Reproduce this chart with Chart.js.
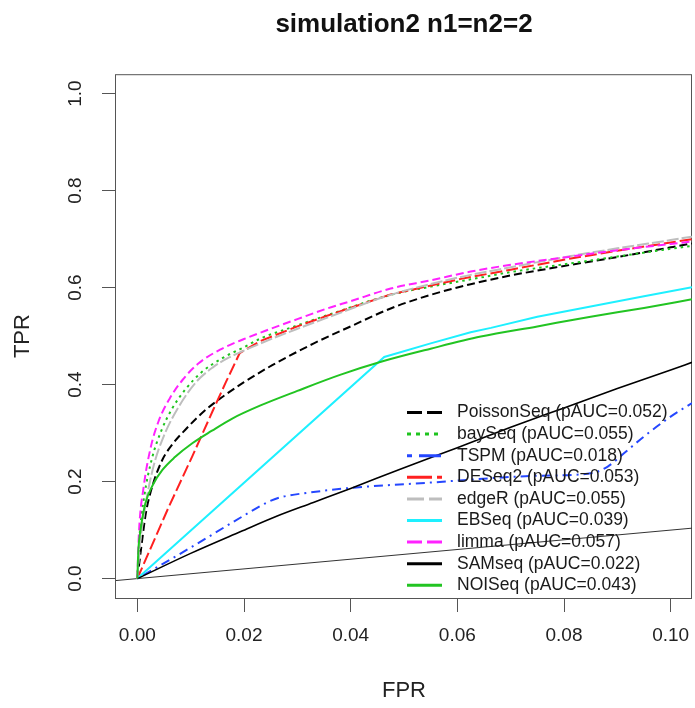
<!DOCTYPE html>
<html>
<head>
<meta charset="utf-8">
<script src="https://cdn.jsdelivr.net/npm/chart.js@4"></script>
<style>
  html, body { margin: 0; padding: 0; background: #fff; }
</style>
</head>
<body>
<canvas id="roc" width="695" height="708"></canvas>
<script>
// methods in legend order, with their partial AUC
var methods = ['PoissonSeq', 'baySeq', 'TSPM', 'DESeq2', 'edgeR', 'EBSeq', 'limma', 'SAMseq', 'NOISeq'];
var pAUC = [0.052, 0.055, 0.018, 0.053, 0.055, 0.039, 0.057, 0.022, 0.043];

// ROC curves (FPR, TPR)
var fprPoissonSeq = [0, 0.0008, 0.0016, 0.0028, 0.0047, 0.0068, 0.009, 0.0125, 0.016, 0.02, 0.0253, 0.0331, 0.04, 0.0475, 0.055, 0.0625, 0.07, 0.0813, 0.09, 0.1, 0.104];
var tprPoissonSeq = [0, 0.07, 0.135, 0.19, 0.245, 0.28, 0.307, 0.345, 0.375, 0.405, 0.44, 0.485, 0.52, 0.557, 0.585, 0.607, 0.625, 0.647, 0.663, 0.683, 0.691];

var fprBaySeq = [0, 0.0004, 0.0013, 0.0028, 0.0045, 0.0065, 0.009, 0.012, 0.016, 0.02, 0.0231, 0.03, 0.0356, 0.0475, 0.055, 0.0625, 0.07, 0.0813, 0.09, 0.1, 0.104];
var tprBaySeq = [0, 0.085, 0.17, 0.25, 0.305, 0.35, 0.39, 0.425, 0.455, 0.477, 0.495, 0.522, 0.543, 0.585, 0.602, 0.617, 0.632, 0.65, 0.664, 0.68, 0.686];

var fprTSPM = [0, 0.01, 0.02, 0.0245, 0.027, 0.032, 0.04, 0.0475, 0.055, 0.0663, 0.075, 0.085, 0.0882, 0.0913, 0.095, 0.1, 0.104];
var tprTSPM = [0, 0.064, 0.13, 0.158, 0.168, 0.177, 0.187, 0.193, 0.198, 0.207, 0.212, 0.217, 0.231, 0.259, 0.293, 0.334, 0.362];

var fprDESeq2 = [0, 0.0059, 0.0103, 0.0141, 0.0166, 0.0192, 0.0231, 0.03, 0.0356, 0.0475, 0.0607, 0.07, 0.0813, 0.09, 0.1, 0.104];
var tprDESeq2 = [0, 0.148, 0.252, 0.345, 0.405, 0.465, 0.49, 0.52, 0.542, 0.586, 0.618, 0.637, 0.66, 0.676, 0.693, 0.7];

var fprEdgeR = [0, 0.0005, 0.0015, 0.003, 0.005, 0.0078, 0.011, 0.0141, 0.0172, 0.02, 0.0231, 0.03, 0.0356, 0.0475, 0.0607, 0.07, 0.0813, 0.09, 0.1, 0.104];
var tprEdgeR = [0, 0.07, 0.15, 0.23, 0.295, 0.355, 0.405, 0.435, 0.456, 0.47, 0.485, 0.515, 0.538, 0.585, 0.622, 0.642, 0.665, 0.681, 0.698, 0.705];

var fprEBSeq = [0, 0.0463, 0.055, 0.0625, 0.0663, 0.075, 0.085, 0.095, 0.104];
var tprEBSeq = [0, 0.457, 0.485, 0.508, 0.517, 0.54, 0.561, 0.582, 0.601];

var fprLimma = [0, 0.0003, 0.0012, 0.0025, 0.004, 0.006, 0.0085, 0.0115, 0.0155, 0.02, 0.025, 0.03, 0.0356, 0.04, 0.0475, 0.055, 0.0625, 0.07, 0.0813, 0.09, 0.1, 0.104];
var tprLimma = [0, 0.094, 0.19, 0.27, 0.325, 0.37, 0.41, 0.444, 0.472, 0.494, 0.515, 0.535, 0.557, 0.572, 0.598, 0.615, 0.633, 0.647, 0.664, 0.677, 0.69, 0.695];

var fprSAMseq = [0, 0.01, 0.0194, 0.026, 0.033, 0.04, 0.0494, 0.06, 0.07, 0.08, 0.09, 0.1, 0.104];
var tprSAMseq = [0, 0.052, 0.097, 0.128, 0.157, 0.186, 0.226, 0.27, 0.312, 0.352, 0.392, 0.43, 0.446];

var fprNOISeq = [0, 0.0002, 0.0006, 0.0015, 0.003, 0.0047, 0.007, 0.0103, 0.014, 0.0178, 0.0231, 0.03, 0.038, 0.046, 0.055, 0.0644, 0.075, 0.085, 0.095, 0.104];
var tprNOISeq = [0, 0.06, 0.1, 0.155, 0.195, 0.224, 0.25, 0.279, 0.305, 0.33, 0.357, 0.387, 0.42, 0.448, 0.474, 0.499, 0.52, 0.54, 0.558, 0.576];

// the y = x reference line
var diagFpr = [-0.004, 0.104];
var diagTpr = [-0.004, 0.104];

var xTicks = [0, 0.02, 0.04, 0.06, 0.08, 0.1];
var yTicks = [0, 0.2, 0.4, 0.6, 0.8, 1.0];

var curves = {
  PoissonSeq: [fprPoissonSeq, tprPoissonSeq],
  baySeq: [fprBaySeq, tprBaySeq],
  TSPM: [fprTSPM, tprTSPM],
  DESeq2: [fprDESeq2, tprDESeq2],
  edgeR: [fprEdgeR, tprEdgeR],
  EBSeq: [fprEBSeq, tprEBSeq],
  limma: [fprLimma, tprLimma],
  SAMseq: [fprSAMseq, tprSAMseq],
  NOISeq: [fprNOISeq, tprNOISeq],
};

var styles = {
  PoissonSeq: { color: '#000000', dash: [8, 4], legendDash: [15, 5], smooth: true, width: 2 },
  baySeq: { color: '#1ec41e', dash: [2.5, 4], legendDash: [4, 5], smooth: true, width: 2 },
  TSPM: { color: '#2547ff', dash: [2, 5, 9, 5], legendDash: [5, 7, 22, 7], smooth: true, width: 2 },
  DESeq2: { color: '#ff2020', dash: [12, 4], legendDash: [25, 5], smooth: false, width: 2 },
  edgeR: { color: '#bebebe', dash: [12, 3], legendDash: [17, 5], smooth: true, width: 2 },
  EBSeq: { color: '#1ef0ff', dash: [], legendDash: [], smooth: false, width: 2 },
  limma: { color: '#ff22ff', dash: [8, 4], legendDash: [15, 5], smooth: true, width: 2 },
  SAMseq: { color: '#000000', dash: [], legendDash: [], smooth: true, width: 1.6 },
  NOISeq: { color: '#22c422', dash: [], legendDash: [], smooth: true, width: 2 },
};

var FONT = '"Liberation Sans", Arial, Helvetica, sans-serif';
Chart.defaults.font.family = FONT;

var toPoints = function (xs, ys) {
  return xs.map(function (x, j) { return { x: x, y: ys[j] }; });
};

var datasets = methods.map(function (m, i) {
  var s = styles[m];
  return {
    label: m + ' (pAUC=' + pAUC[i].toFixed(3) + ')',
    data: toPoints(curves[m][0], curves[m][1]),
    borderColor: s.color,
    borderWidth: s.width,
    borderDash: s.dash,
    legendDash: s.legendDash,
    cubicInterpolationMode: s.smooth ? 'monotone' : 'default',
    tension: 0,
    pointRadius: 0,
    fill: false,
    order: methods.length - i,
  };
});

datasets.push({
  label: 'y = x',
  data: toPoints(diagFpr, diagTpr),
  borderColor: '#333333',
  borderWidth: 1,
  pointRadius: 0,
  fill: false,
  inLegend: false,
  order: methods.length + 1,
});

// box round the plot region, R style
var plotBox = {
  id: 'plotBox',
  beforeDatasetsDraw: function (chart) {
    var a = chart.chartArea, ctx = chart.ctx;
    ctx.save();
    ctx.strokeStyle = '#555';
    ctx.lineWidth = 1;
    ctx.strokeRect(a.left - 0.5, a.top + 0.5, a.right - a.left, a.bottom - a.top);
    ctx.restore();
  }
};

// R legend without frame, bottom right inside the plot
var rLegend = {
  id: 'rLegend',
  afterDatasetsDraw: function (chart) {
    var a = chart.chartArea, ctx = chart.ctx;
    var x0 = a.left + 291, x1 = x0 + 35, tx = a.left + 341;
    var y = a.bottom - 185.5;
    ctx.save();
    ctx.font = '17.5px ' + FONT;
    ctx.textBaseline = 'middle';
    ctx.textAlign = 'left';
    chart.data.datasets.forEach(function (ds) {
      if (ds.inLegend === false) return;
      ctx.beginPath();
      ctx.setLineDash(ds.legendDash);
      ctx.strokeStyle = ds.borderColor;
      ctx.lineWidth = 3;
      ctx.moveTo(x0, y);
      ctx.lineTo(x1, y);
      ctx.stroke();
      ctx.setLineDash([]);
      ctx.fillStyle = '#1a1a1a';
      ctx.fillText(ds.label, tx, y);
      y += 21.6;
    });
    ctx.restore();
  }
};

var rocChart = new Chart('roc', {
  type: 'line',
  data: { datasets: datasets },
  options: {
    responsive: false,
    animation: false,
    devicePixelRatio: 1,
    layout: { padding: { top: 0, right: 3, bottom: 0, left: 0 } },
    plugins: {
      legend: { display: false },
      tooltip: { enabled: false },
      title: {
        display: true,
        text: 'simulation2 n1=n2=2',
        fullSize: false,
        color: '#111',
        font: { size: 26, weight: 'bold', family: FONT },
        padding: { top: 9, bottom: 34 },
      },
    },
    scales: {
      x: {
        type: 'linear',
        min: -0.004,
        max: 0.104,
        afterBuildTicks: function (scale) {
          scale.ticks = xTicks.map(function (v) { return { value: v }; });
        },
        afterFit: function (scale) {
          scale.height = 110;
          scale.paddingLeft = 0;
          scale.paddingRight = 0;
        },
        border: { display: false },
        grid: { drawOnChartArea: false, drawTicks: true, tickLength: 14, color: '#555', lineWidth: 1 },
        ticks: {
          color: '#222',
          font: { size: 19 },
          padding: 12.6,
          maxRotation: 0,
          autoSkip: false,
          callback: function (v) { return v.toFixed(2); },
        },
        title: { display: true, text: 'FPR', color: '#222', font: { size: 22 }, padding: { top: 0, bottom: 4 } },
      },
      y: {
        type: 'linear',
        min: -0.04,
        max: 1.04,
        afterBuildTicks: function (scale) {
          scale.ticks = yTicks.map(function (v) { return { value: v }; });
        },
        afterFit: function (scale) {
          scale.width = 116;
          scale.paddingTop = 0;
          scale.paddingBottom = 0;
        },
        border: { display: false },
        grid: { drawOnChartArea: false, drawTicks: true, tickLength: 14, color: '#555', lineWidth: 1 },
        ticks: {
          color: '#222',
          font: { size: 19 },
          padding: 13.5,
          minRotation: 90,
          maxRotation: 90,
          crossAlign: 'center',
          autoSkip: false,
          callback: function (v) { return v.toFixed(1); },
        },
        title: { display: true, text: 'TPR', color: '#222', font: { size: 22 }, padding: { top: 10, bottom: 0 } },
      },
    },
  },
  plugins: [plotBox, rLegend],
});
</script>
</body>
</html>
